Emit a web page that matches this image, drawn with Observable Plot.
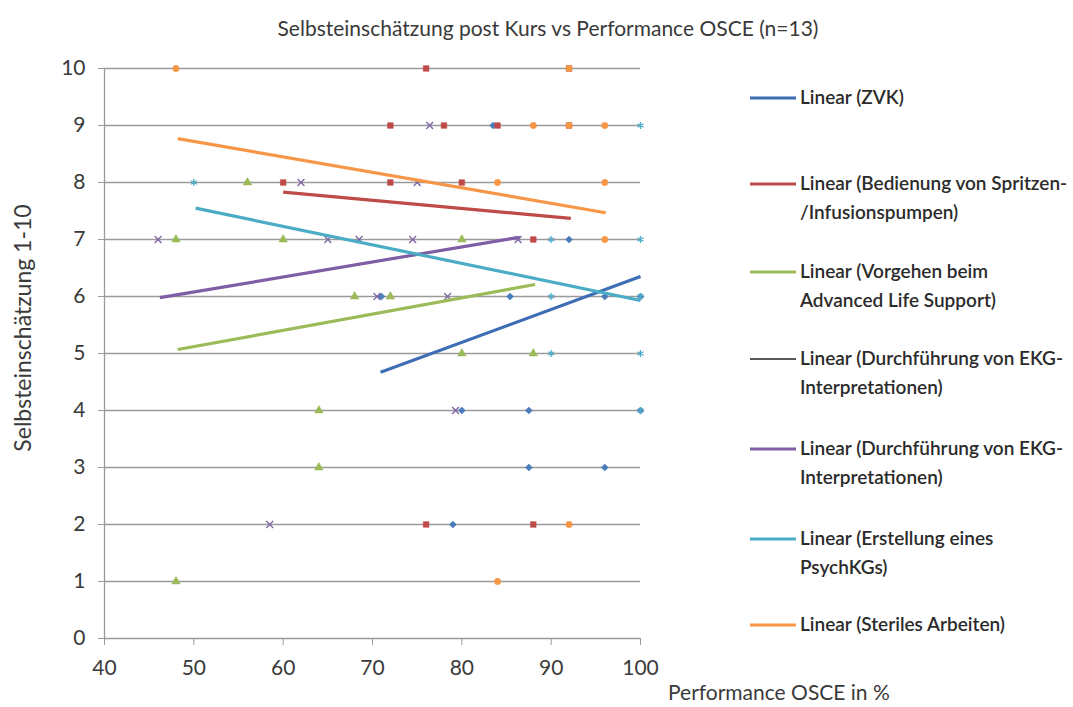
<!DOCTYPE html>
<html>
<head>
<meta charset="utf-8">
<script src="https://cdn.jsdelivr.net/npm/d3@7"></script>
<script src="https://cdn.jsdelivr.net/npm/@observablehq/plot@0.6"></script>
<style>
  html, body { margin: 0; padding: 0; background: #fff; }
  #wrap { position: relative; width: 1073px; height: 707px; font-family: Lato, "Open Sans", sans-serif; color: #3a3a3a; }
  #wrap svg { display: block; }
  .ov { position: absolute; white-space: nowrap; }
  #title { left: 0; width: 1096px; top: 15px; text-align: center; font-size: 21px; }
  #ylab { left: 22px; top: 328px; font-size: 23px; transform: translate(-50%, -50%) rotate(-90deg); }
  #xlab { left: 668px; top: 679px; font-size: 21px; }
  .leg { position: absolute; left: 750px; font-size: 19px; line-height: 29px; font-weight: 600; color: #2b2b2b; }
  .leg svg { position: absolute; left: 0; top: 13px; }
  .leg span { display: block; margin-left: 50px; white-space: nowrap; }
</style>
</head>
<body>
<div id="wrap"></div>
<script>
// ---- data ----
const xTicks = [40, 50, 60, 70, 80, 90, 100];
const yTicks = [0, 1, 2, 3, 4, 5, 6, 7, 8, 9, 10];

const seriesNames = ["ZVK", "Spritzen", "ALS", "EKG", "PsychKG", "Steril"];
const seriesColors = ["#4A7EBB", "#BE4B48", "#9BBB59", "#7E64A6", "#4BACC6", "#F79646"];
const trendColors = ["#3D6DB5", "#BE4B48", "#9BBB59", "#7E5FA6", "#4BACC6", "#F79646"];
const seriesSymbols = ["diamond2", "square", "triangle", "times", "asterisk", "circle"];

const zvkX = [83.5, 92, 71, 85.4, 96, 100, 80, 87.5, 100, 87.5, 96, 79];
const zvkY = [9, 7, 6, 6, 6, 6, 4, 4, 4, 3, 3, 2];
const spritzenX = [76, 92, 72, 78, 84, 92, 60, 72, 80, 88, 76, 88];
const spritzenY = [10, 10, 9, 9, 9, 9, 8, 8, 8, 7, 2, 2];
const alsX = [56, 48, 60, 80, 68, 72, 80, 88, 64, 64, 48];
const alsY = [8, 7, 7, 7, 6, 6, 5, 5, 4, 3, 1];
const ekgX = [76.4, 62, 75, 46, 65, 68.5, 74.5, 86.3, 70.5, 78.4, 79.3, 58.5];
const ekgY = [9, 8, 8, 7, 7, 7, 7, 7, 6, 6, 4, 2];
const psychX = [100, 50, 90, 100, 90, 100, 90, 100, 100];
const psychY = [9, 8, 7, 7, 6, 6, 5, 5, 4];
const sterilX = [48, 92, 88, 92, 96, 84, 96, 96, 92, 84];
const sterilY = [10, 10, 9, 9, 9, 8, 8, 7, 2, 1];

// trendline endpoints
const trendX1 = [70.9, 60, 48.2, 46.2, 50.2, 48.2];
const trendY1 = [4.67, 7.83, 5.07, 5.98, 7.55, 8.77];
const trendX2 = [100, 92.2, 88.2, 86.5, 100, 96.1];
const trendY2 = [6.35, 7.37, 6.21, 7.04, 5.93, 7.47];

const legendLabels = [
  ["Linear (ZVK)"],
  ["Linear (Bedienung von Spritzen-", "/Infusionspumpen)"],
  ["Linear (Vorgehen beim", "Advanced Life Support)"],
  ["Linear (Durchführung von EKG-", "Interpretationen)"],
  ["Linear (Durchführung von EKG-", "Interpretationen)"],
  ["Linear (Erstellung eines", "PsychKGs)"],
  ["Linear (Steriles Arbeiten)"]
];
const legendColors = ["#3D6DB5", "#BE4B48", "#9BBB59", "#222222", "#7E5FA6", "#4BACC6", "#F79646"];
const legendWidths = [3, 3, 3, 1.3, 3, 3, 3];

// ---- build tables ----
const xs = [zvkX, spritzenX, alsX, ekgX, psychX, sterilX];
const ys = [zvkY, spritzenY, alsY, ekgY, psychY, sterilY];
const points = [];
seriesNames.forEach((s, i) => xs[i].forEach((x, j) => points.push({s, i, x, y: ys[i][j]})));
const trends = seriesNames.map((s, i) => ({s, i, x1: trendX1[i], y1: trendY1[i], x2: trendX2[i], y2: trendY2[i]}));

const isLine = i => seriesSymbols[i] === "times" || seriesSymbols[i] === "asterisk";

const chart = Plot.plot({
  width: 1073,
  height: 707,
  marginLeft: 104,
  marginRight: 433,
  marginTop: 68,
  marginBottom: 69,
  style: {fontFamily: "Lato, 'Open Sans', sans-serif", fontSize: "21px", background: "#fff"},
  x: {domain: [40, 100]},
  y: {domain: [0, 10]},
  marks: [
    Plot.gridY(yTicks, {stroke: "#9a9a9a", strokeOpacity: 1, strokeWidth: 1.3}),
    Plot.ruleX([40], {stroke: "#9a9a9a", strokeWidth: 1.3}),
    Plot.axisY(yTicks, {tickSize: 6, tickPadding: 13, stroke: "#9a9a9a", color: "#3a3a3a", label: null, tickFormat: d => String(d)}),
    Plot.axisX(xTicks, {tickSize: 7, tickPadding: 15, stroke: "#9a9a9a", color: "#3a3a3a", label: null, tickFormat: d => String(d)}),
    Plot.dot(points, {
      x: "x", y: "y",
      symbol: d => seriesSymbols[d.i],
      fill: d => isLine(d.i) ? "none" : seriesColors[d.i],
      stroke: d => seriesColors[d.i],
      strokeWidth: d => isLine(d.i) ? 1.3 : 0.5,
      r: 3.2
    }),
    Plot.link(trends, {x1: "x1", y1: "y1", x2: "x2", y2: "y2", stroke: d => trendColors[d.i], strokeWidth: 3.2})
  ]
});

const wrap = document.getElementById("wrap");
wrap.appendChild(chart);

function addDiv(id, text) {
  const d = document.createElement("div");
  d.className = "ov"; d.id = id; d.textContent = text;
  wrap.appendChild(d);
}
addDiv("title", "Selbsteinschätzung post Kurs vs Performance OSCE (n=13)");
addDiv("ylab", "Selbsteinschätzung 1-10");
addDiv("xlab", "Performance OSCE in %");

const legendTops = [82, 168, 256, 343, 433, 523, 609];
legendLabels.forEach((lines, i) => {
  const d = document.createElement("div");
  d.className = "leg";
  d.style.top = legendTops[i] + "px";
  d.innerHTML = `<svg width="46" height="6"><line x1="0" x2="46" y1="3" y2="3" stroke="${legendColors[i]}" stroke-width="${legendWidths[i]}"/></svg>` +
    lines.map(t => `<span>${t}</span>`).join("");
  wrap.appendChild(d);
});
</script>
</body>
</html>
